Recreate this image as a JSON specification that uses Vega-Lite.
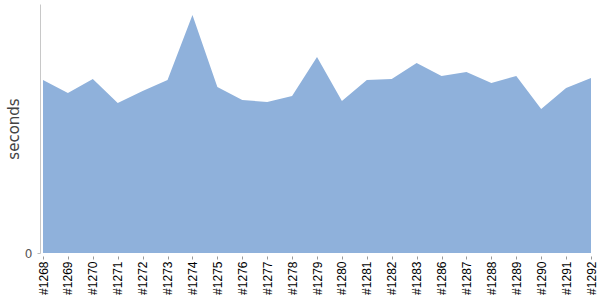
{
  "$schema": "https://vega.github.io/schema/vega-lite/v6.json",
  "width": 548,
  "height": 249,
  "autosize": "none",
  "padding": {"left": 43, "top": 4, "right": 9, "bottom": 47},
  "background": "white",
  "config": {"view": {"stroke": null}},
  "data": {
    "values": [
      {"build": "#1268", "seconds": 173},
      {"build": "#1269", "seconds": 160},
      {"build": "#1270", "seconds": 174},
      {"build": "#1271", "seconds": 150},
      {"build": "#1272", "seconds": 162},
      {"build": "#1273", "seconds": 173},
      {"build": "#1274", "seconds": 238},
      {"build": "#1275", "seconds": 166},
      {"build": "#1276", "seconds": 153},
      {"build": "#1277", "seconds": 151},
      {"build": "#1278", "seconds": 157},
      {"build": "#1279", "seconds": 196},
      {"build": "#1280", "seconds": 152},
      {"build": "#1281", "seconds": 173},
      {"build": "#1282", "seconds": 174},
      {"build": "#1283", "seconds": 190},
      {"build": "#1286", "seconds": 177},
      {"build": "#1287", "seconds": 181},
      {"build": "#1288", "seconds": 170},
      {"build": "#1289", "seconds": 177},
      {"build": "#1290", "seconds": 144},
      {"build": "#1291", "seconds": 165},
      {"build": "#1292", "seconds": 175}
    ]
  },
  "mark": {"type": "area", "color": "#8fb1db", "opacity": 1},
  "encoding": {
    "x": {
      "field": "build",
      "type": "ordinal",
      "sort": null,
      "scale": {"type": "point", "padding": 0},
      "axis": {
        "title": null,
        "domain": false,
        "offset": 3,
        "tickSize": 3,
        "tickColor": "#999",
        "labelAngle": -90,
        "labelPadding": 2,
        "labelFont": "Liberation Sans",
        "labelFontSize": 12,
        "labelColor": "#000",
        "grid": false
      }
    },
    "y": {
      "field": "seconds",
      "type": "quantitative",
      "scale": {"domain": [0, 249], "nice": false},
      "axis": {
        "title": "seconds",
        "titleFont": "DejaVu Sans",
        "titleFontSize": 15,
        "titleFontWeight": "normal",
        "titleColor": "#444",
        "titlePadding": 3,
        "values": [0],
        "offset": 3,
        "tickSize": 3,
        "tickColor": "#bbb",
        "domainColor": "#c8c8c8",
        "labelPadding": 5,
        "labelFont": "DejaVu Sans",
        "labelFontSize": 12,
        "labelColor": "#555",
        "grid": false
      }
    }
  }
}
